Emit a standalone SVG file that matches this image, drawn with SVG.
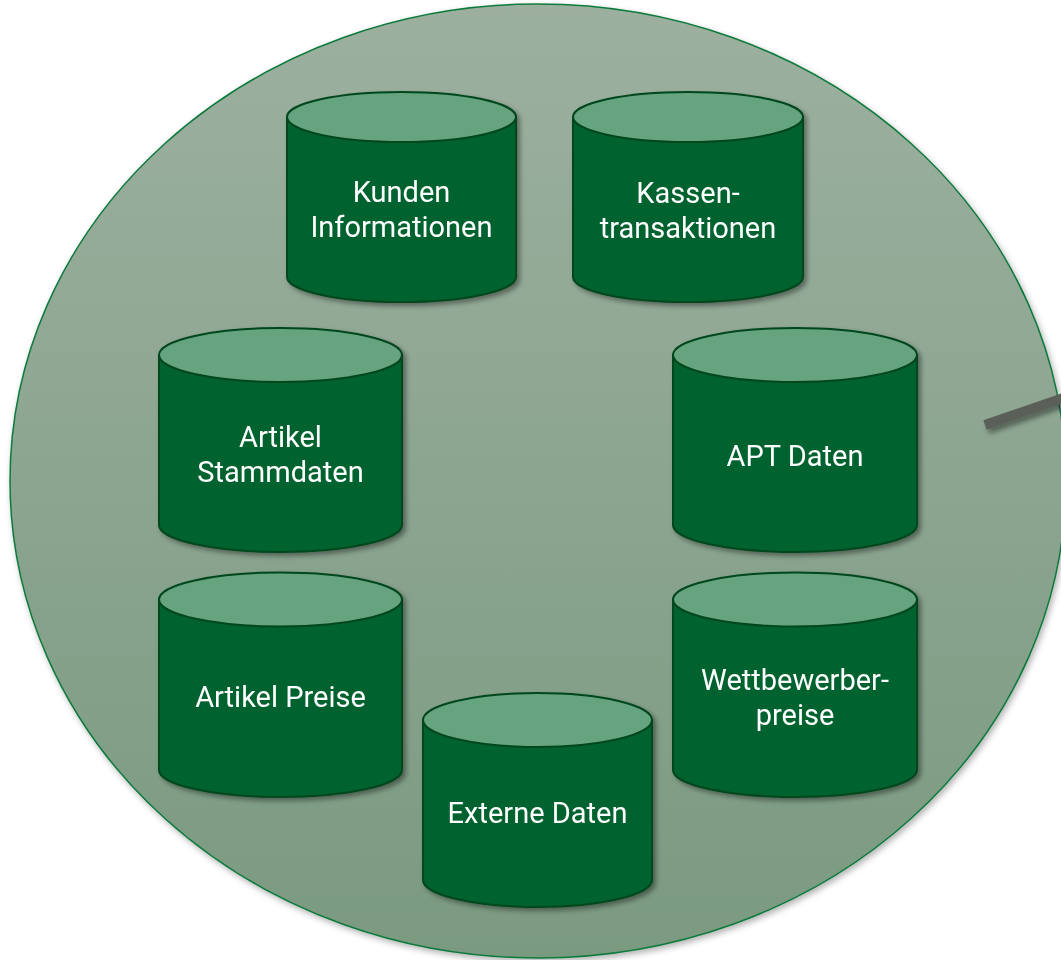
<svg xmlns="http://www.w3.org/2000/svg" width="1061" height="960" viewBox="0 0 1061 960">
<defs>
<linearGradient id="bg" x1="0" y1="0" x2="0" y2="1">
<stop offset="0" stop-color="#9DB0A0"/>
<stop offset="1" stop-color="#7A9A80"/>
</linearGradient>
<filter id="sh" x="-10%" y="-10%" width="125%" height="125%">
<feDropShadow dx="3" dy="3" stdDeviation="2.5" flood-color="#000" flood-opacity="0.4"/>
</filter>
<filter id="shl" filterUnits="userSpaceOnUse" x="960" y="370" width="120" height="80">
<feDropShadow dx="3" dy="4" stdDeviation="2.5" flood-color="#000" flood-opacity="0.4"/>
</filter>
<filter id="sh2" x="-5%" y="-5%" width="110%" height="110%">
<feDropShadow dx="2" dy="3" stdDeviation="3" flood-color="#000" flood-opacity="0.3"/>
</filter>
</defs>
<style>
.body{fill:#00622F;stroke:#00461E;stroke-width:2}
.top{fill:#66A37F;stroke:#00461E;stroke-width:2}
.lbl{font-family:Roboto,"Liberation Sans",sans-serif;font-size:29px;fill:#FFFFFF;text-anchor:middle}
</style>
<rect width="1061" height="960" fill="#FFFFFF"/>
<ellipse id="pool" cx="538" cy="481" rx="528" ry="477" fill="url(#bg)" stroke="#0E7A3C" stroke-width="1.5" filter="url(#sh2)"/>
<g id="connectors">
<line x1="985" y1="425" x2="1075" y2="394" stroke="#5A5E58" stroke-width="10" filter="url(#shl)"/>
</g>
<g id="kunden" filter="url(#sh)">
<path class="body" d="M287,117 V277 A114.5,25 0 0 0 516,277 V117 Z"/>
<ellipse class="top" cx="401.5" cy="117" rx="114.5" ry="25"/>
<text class="lbl" x="401.5" y="202">Kunden</text>
<text class="lbl" x="401.5" y="237">Informationen</text>
</g>
<g id="kassen" filter="url(#sh)">
<path class="body" d="M573,117 V277 A115,25 0 0 0 803,277 V117 Z"/>
<ellipse class="top" cx="688" cy="117" rx="115" ry="25"/>
<text class="lbl" x="688" y="203">Kassen-</text>
<text class="lbl" x="688" y="238">transaktionen</text>
</g>
<g id="stammdaten" filter="url(#sh)">
<path class="body" d="M159,355 V525 A121.5,27 0 0 0 402,525 V355 Z"/>
<ellipse class="top" cx="280.5" cy="355" rx="121.5" ry="27"/>
<text class="lbl" x="280.5" y="447">Artikel</text>
<text class="lbl" x="280.5" y="482">Stammdaten</text>
</g>
<g id="apt" filter="url(#sh)">
<path class="body" d="M673,355 V525 A122,27 0 0 0 917,525 V355 Z"/>
<ellipse class="top" cx="795" cy="355" rx="122" ry="27"/>
<text class="lbl" x="795" y="466">APT Daten</text>
</g>
<g id="preise" filter="url(#sh)">
<path class="body" d="M159,599.5 V770 A121.5,27 0 0 0 402,770 V599.5 Z"/>
<ellipse class="top" cx="280.5" cy="599.5" rx="121.5" ry="27"/>
<text class="lbl" x="280.5" y="707">Artikel Preise</text>
</g>
<g id="wettbewerber" filter="url(#sh)">
<path class="body" d="M673,599.5 V770 A122,27 0 0 0 917,770 V599.5 Z"/>
<ellipse class="top" cx="795" cy="599.5" rx="122" ry="27"/>
<text class="lbl" x="795" y="690">Wettbewerber-</text>
<text class="lbl" x="795" y="725">preise</text>
</g>
<g id="extern" filter="url(#sh)">
<path class="body" d="M423,720 V880 A114.5,27 0 0 0 652,880 V720 Z"/>
<ellipse class="top" cx="537.5" cy="720" rx="114.5" ry="27"/>
<text class="lbl" x="537.5" y="823">Externe Daten</text>
</g>
</svg>
